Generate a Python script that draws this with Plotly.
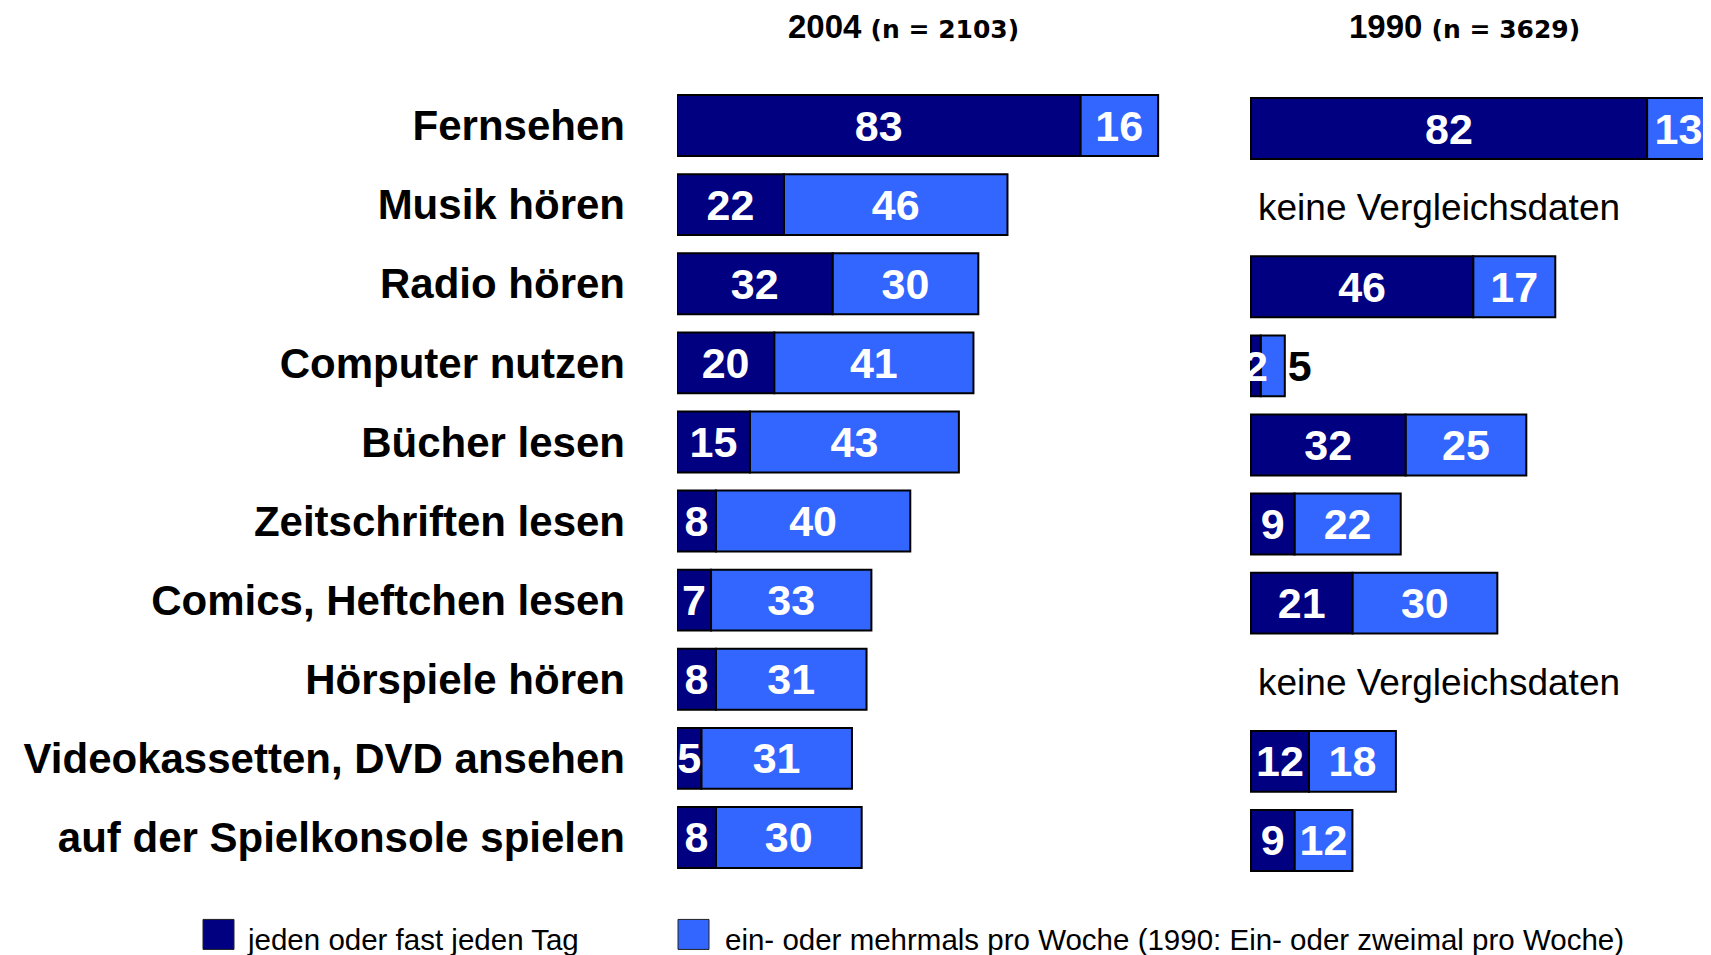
import plotly.graph_objects as go

# activities, top to bottom
categories = [
    "Fernsehen",
    "Musik hören",
    "Radio hören",
    "Computer nutzen",
    "Bücher lesen",
    "Zeitschriften lesen",
    "Comics, Heftchen lesen",
    "Hörspiele hören",
    "Videokassetten, DVD ansehen",
    "auf der Spielkonsole spielen",
]

# 2004 (n = 2103)
daily_2004 = [83, 22, 32, 20, 15, 8, 7, 8, 5, 8]
weekly_2004 = [16, 46, 30, 41, 43, 40, 33, 31, 31, 30]

# 1990 (n = 3629), None = keine Vergleichsdaten
daily_1990 = [82, None, 46, 2, 32, 9, 21, None, 12, 9]
weekly_1990 = [13, None, 17, 5, 25, 22, 30, None, 18, 12]

series_names = [
    "jeden oder fast jeden Tag",
    "ein- oder mehrmals pro Woche (1990: Ein- oder zweimal pro Woche)",
]
colors = ["#000080", "#3366FF"]

# the page body adds an 8px margin, so the figure is a bit smaller than the window
OFF = 8
W, H = 1711 - OFF, 955 - OFF
PLOT_TOP, PLOT_BOTTOM = 86, 876.6          # in window pixels
MT = PLOT_TOP - OFF
MB = H - (PLOT_BOTTOM - OFF)
FONT = "Liberation Sans, Arial, sans-serif"


def fx(px):
    return (px - OFF) / W


def fy(py):
    return (PLOT_BOTTOM - py) / (PLOT_BOTTOM - PLOT_TOP)


def seg_text(vals):
    return ["" if v is None else str(v) for v in vals]


def outer_pos(vals):
    # small outer segments get their number outside the bar
    return ["outside" if (v is not None and v < 6) else "inside" for v in vals]


def outer_col(vals):
    return ["black" if (v is not None and v < 6) else "white" for v in vals]


fig = go.Figure()

panels = [
    (daily_2004, weekly_2004, "x", "y"),
    (daily_1990, weekly_1990, "x2", "y2"),
]
for daily, weekly, xa, ya in panels:
    # outer segment first (stacked on the daily value), inner segment on top
    # so that its numbers stay readable when they spill over
    fig.add_trace(go.Bar(
        x=weekly, y=categories, base=daily, orientation="h",
        xaxis=xa, yaxis=ya,
        marker=dict(color=colors[1], line=dict(color="black", width=2)),
        text=seg_text(weekly), textposition=outer_pos(weekly),
        insidetextanchor="middle", textangle=0, constraintext="none",
        textfont=dict(family=FONT, size=43, color=outer_col(weekly), weight="bold"),
        cliponaxis=False,
        width=0.77, showlegend=False, name=series_names[1],
    ))
    fig.add_trace(go.Bar(
        x=daily, y=categories, orientation="h",
        xaxis=xa, yaxis=ya,
        marker=dict(color=colors[0], line=dict(color="black", width=2)),
        text=seg_text(daily), textposition="inside",
        insidetextanchor="middle", textangle=0, constraintext="none",
        textfont=dict(family=FONT, size=43, color="white", weight="bold"),
        cliponaxis=False,
        width=0.77, showlegend=False, name=series_names[0],
    ))

annotations = []

# no comparison data for 1990
for cat, v in zip(categories, daily_1990):
    if v is None:
        annotations.append(dict(
            x=0, y=cat, xref="x2", yref="y2", xanchor="left", yanchor="middle",
            xshift=5, showarrow=False, text="keine Vergleichsdaten",
            font=dict(family=FONT, size=37, color="black"),
        ))

# panel titles
for label, n, cx in [("2004", 2103, 903), ("1990", 3629, 1464)]:
    annotations.append(dict(
        x=fx(cx), y=fy(26.5), xref="paper", yref="paper",
        xanchor="center", yanchor="middle", showarrow=False,
        text=(f"<b>{label}</b> <span style='font-size:25px;"
              f"font-family:DejaVu Sans'><b>(n = {n})</b></span>"),
        font=dict(family=FONT, size=33, color="black"),
    ))

# legend drawn at the bottom
shapes = []
for name, col, sx, tx in zip(series_names, colors, [203, 678], [245, 723]):
    shapes.append(dict(
        type="rect", xref="paper", yref="paper",
        x0=fx(sx), x1=fx(sx + 31), y0=fy(949), y1=fy(919),
        fillcolor=col, line=dict(color="#222222", width=1),
    ))
    annotations.append(dict(
        x=fx(tx), y=fy(939), xref="paper", yref="paper",
        xanchor="left", yanchor="middle", showarrow=False, text=name,
        font=dict(family=FONT, size=29.5, color="black"),
    ))

px_per_unit = 4.86
x2_start = 1251
x2_pad = 2.0          # a little room left of zero so spilled text is not cut
fig.update_layout(
    width=W, height=H,
    margin=dict(l=0, r=0, t=MT, b=MB, pad=0),
    paper_bgcolor="white", plot_bgcolor="white",
    barmode="overlay",
    font=dict(family=FONT, color="black"),
    xaxis=dict(domain=[fx(677), fx(677 + 100 * px_per_unit)], range=[0, 100],
               visible=False, anchor="y"),
    xaxis2=dict(domain=[fx(x2_start - x2_pad * 4.83), 1.0],
                range=[-x2_pad, (1711 - x2_start) / 4.83],
                visible=False, anchor="y2"),
    yaxis=dict(domain=[0, 1], range=[9.5, -0.5], anchor="x",
               showgrid=False, zeroline=False, showline=False, ticks="",
               ticklabelstandoff=51,
               tickfont=dict(family=FONT, size=42, color="black", weight="bold")),
    yaxis2=dict(domain=[0, 1], range=[9.462, -0.538], anchor="x2",
                visible=False),
    annotations=annotations,
    shapes=shapes,
)

fig.write_html("out.html")
